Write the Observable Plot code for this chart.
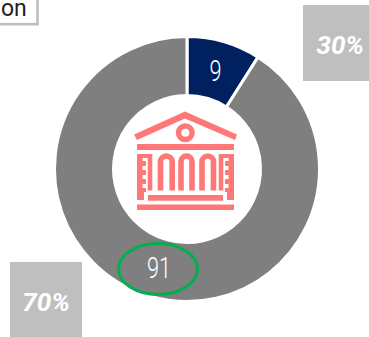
<!DOCTYPE html>
<html>
<head>
<meta charset="utf-8">
<script src="https://cdn.jsdelivr.net/npm/d3@7"></script>
<script src="https://cdn.jsdelivr.net/npm/@observablehq/plot@0.6"></script>
<style>
html,body{margin:0;padding:0;background:#fff;overflow:hidden}
svg{display:block}
</style>
</head>
<body>
<div id="chart"></div>
<script>
const categories = ["Minority", "Majority"];
const values = [9, 91];
const shareLabels = ["30%", "70%"];
const clippedLabel = ["on"];

const W = 369, H = 337;
const colors = {navy:"#002060", gray:"#7f7f7f", box:"#bfbfbf", icon:"#ff7878", green:"#00b050"};
const center = {x:187, y:169, outer:132.5, inner:73.5};
const valueRows = categories.map((c,i)=>({category:c, value:values[i],
  x:[215,158.5][i], y:[71.5,268.5][i]}));
const shareRows = shareLabels.map((t,i)=>({text:t,
  x1:[303,10][i], x2:[369,82][i], y1:[5,262][i], y2:[81,337][i],
  x:[339.7,45.5][i], y:[45,302][i]}));

function svgEl(name, attrs, parent){
  const e = document.createElementNS("http://www.w3.org/2000/svg", name);
  for (const k in attrs) e.setAttribute(k, attrs[k]);
  if (parent) parent.appendChild(e);
  return e;
}

function donut(index, {x, y}){
  const g = svgEl("g", {});
  const pie = d3.pie().sort(null)(values);
  const arc = d3.arc().innerRadius(center.inner).outerRadius(center.outer);
  pie.forEach((p,i)=>{
    svgEl("path", {d:arc(p), transform:`translate(${x(center.x)},${y(center.y)})`,
      fill:[colors.navy,colors.gray][i], stroke:"#fff", "stroke-width":3}, g);
  });
  return g;
}

function callout(index, {x, y}){
  const g = svgEl("g", {});
  svgEl("ellipse", {cx:x(158), cy:y(269), rx:39.5, ry:25.5, fill:"none",
    stroke:colors.green, "stroke-width":3}, g);
  return g;
}

function bankIcon(index, {x, y}){
  const g = svgEl("g", {fill:colors.icon, stroke:"none"});
  const poly = pts => svgEl("polygon", {points:pts.map(([a,b])=>`${x(a)},${y(b)}`).join(" ")}, g);
  const box = (a,b,c,d) => svgEl("rect", {x:x(a), y:y(b), width:x(c)-x(a), height:y(d)-y(b)}, g);
  poly([[185,111.5],[237,134.5],[235,140],[185,118.5],[137,140],[134,134.5]]);
  svgEl("circle", {cx:x(185.3), cy:y(132.7), r:6.8, fill:"none", stroke:colors.icon, "stroke-width":5.5}, g);
  box(137,144,234,150);
  box(148,195,223,200.7);
  box(137,204.5,234,210);
  // outer piers with stepped inner edge, and the leg beside each
  poly([[137,154],[152.3,154],[152.3,190.5],[147.7,190.5],[147.7,158],[142.5,158],[142.5,161],[146,161],[146,166],[142.5,166],[142.5,170],[146,170],[146,175],[142.5,175],[142.5,179],[146,179],[146,184],[142.5,184],[142.5,188],[146,188],[146,192],[144,192],[144,200],[137,200]]);
  poly([[234,154],[218.7,154],[218.7,190.5],[223.3,190.5],[223.3,158],[228.5,158],[228.5,161],[225,161],[225,166],[228.5,166],[228.5,170],[225,170],[225,175],[228.5,175],[228.5,179],[225,179],[225,184],[228.5,184],[228.5,188],[225,188],[225,192],[227,192],[227,200],[234,200]]);
  // arches
  [[160.5,172.2],[181,192],[202,213.5]].forEach(([a,b])=>{
    const r=(b-a)/2;
    svgEl("path", {d:`M${x(a)},${y(190.5)}V${y(156+r)}A${r},${r} 0 0 1 ${x(b)},${y(156+r)}V${y(190.5)}`,
      fill:"none", stroke:colors.icon, "stroke-width":5.6}, g);
  });
  return g;
}

const plot = Plot.plot({
  width:W, height:H, margin:0,
  x:{domain:[0,W], range:[0,W], axis:null},
  y:{domain:[0,H], range:[0,H], axis:null},
  style:{background:"transparent"},
  marks:[
    Plot.rect([{}], {x1:()=>-6, x2:()=>37.5, y1:()=>-6, y2:()=>24.2, fill:"#fff", stroke:colors.box, strokeWidth:2.6}),
    Plot.text(clippedLabel, {x:()=>0.5, y:()=>8.6, text:d=>d, textAnchor:"start", fontSize:23, fontFamily:"Roboto", fill:"#222"}),
    donut,
    bankIcon,
    Plot.rect(shareRows, {x1:"x1", x2:"x2", y1:"y1", y2:"y2", fill:colors.box}),
    Plot.text(shareRows, {x:"x", y:"y", text:"text", fill:"#fff", fontSize:26, fontWeight:700, fontStyle:"italic", fontFamily:"Roboto"}),
    Plot.text(valueRows, {x:"x", y:"y", text:d=>String(d.value), fill:"#fff", fontSize:29, fontWeight:300, fontFamily:"Roboto"}),
    callout
  ]
});
plot.querySelectorAll("text").forEach(t=>{
  const s = t.textContent;
  if (values.map(String).includes(s)) {
    t.setAttribute("textLength", s.length * 12);
    t.setAttribute("lengthAdjust", "spacingAndGlyphs");
  }
});
document.getElementById("chart").appendChild(plot);
</script>
</body>
</html>
